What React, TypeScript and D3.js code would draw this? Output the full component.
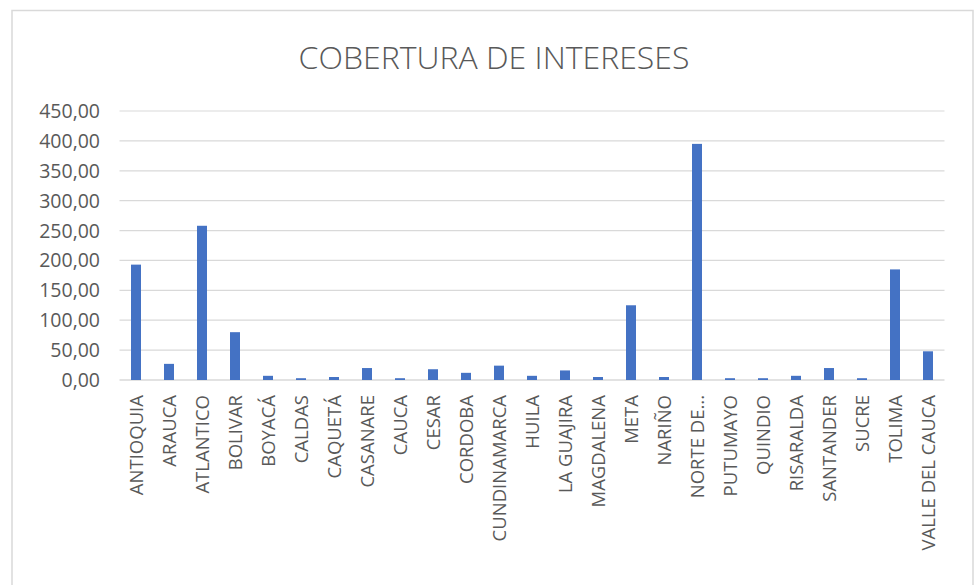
import React, { useEffect, useRef } from 'react';
import * as d3 from 'd3';

const DEPARTMENTS = [
  "ANTIOQUIA", "ARAUCA", "ATLANTICO", "BOLIVAR", "BOYACÁ", "CALDAS", "CAQUETÁ",
  "CASANARE", "CAUCA", "CESAR", "CORDOBA", "CUNDINAMARCA", "HUILA", "LA GUAJIRA",
  "MAGDALENA", "META", "NARIÑO", "NORTE DE...", "PUTUMAYO", "QUINDIO", "RISARALDA",
  "SANTANDER", "SUCRE", "TOLIMA", "VALLE DEL CAUCA"
];
const COVERAGE = [
  193, 27, 258, 80, 7, 3, 5,
  20, 3, 18, 12, 24, 7, 16,
  5, 125, 5, 395, 3, 3, 7,
  20, 3, 185, 48
];
const Y_TICKS = [0, 50, 100, 150, 200, 250, 300, 350, 400, 450];
const TITLE = "COBERTURA DE INTERESES";

const W = 976;
const H = 585;
const PLOT = { left: 119.5, right: 944.5, top: 111, bottom: 380 };
const FONT = "'Open Sans', 'DejaVu Sans', sans-serif";
const TEXT_COLOR = "#595959";
const GRID_COLOR = "#d9d9d9";
const BAR_COLOR = "#4472C4";

export default function App() {
  const svgRef = useRef<SVGSVGElement>(null);

  useEffect(() => {
    const svg = d3.select(svgRef.current);
    svg.selectAll("*").remove();

    const x = d3.scaleBand<string>()
      .domain(DEPARTMENTS)
      .range([PLOT.left, PLOT.right])
      .paddingInner(0.697)
      .paddingOuter(0.3485);

    const y = d3.scaleLinear()
      .domain([0, 450])
      .range([PLOT.bottom, PLOT.top]);

    // chart frame
    svg.append("rect")
      .attr("x", 12)
      .attr("y", 10.5)
      .attr("width", 961)
      .attr("height", 620)
      .attr("fill", "#fff")
      .attr("stroke", GRID_COLOR)
      .attr("stroke-width", 1.5);

    // title
    svg.append("text")
      .attr("x", 494)
      .attr("y", 69)
      .attr("text-anchor", "middle")
      .style("font-family", FONT)
      .style("font-size", "32px")
      .style("font-weight", "300")
      .style("fill", TEXT_COLOR)
      .text(TITLE);

    // gridlines + y labels
    Y_TICKS.forEach(t => {
      svg.append("line")
        .attr("x1", PLOT.left)
        .attr("x2", PLOT.right)
        .attr("y1", y(t))
        .attr("y2", y(t))
        .attr("stroke", GRID_COLOR)
        .attr("stroke-width", t === 0 ? 1.5 : 1.2);

      svg.append("text")
        .attr("x", 100)
        .attr("y", y(t))
        .attr("dy", "0.36em")
        .attr("text-anchor", "end")
        .style("font-family", FONT)
        .style("font-size", "19.5px")
        .style("fill", TEXT_COLOR)
        .text(d3.format(".2f")(t).replace(".", ","));
    });

    // bars
    svg.append("g")
      .selectAll("rect")
      .data(DEPARTMENTS.map((d, i) => ({ name: d, value: COVERAGE[i] })))
      .join("rect")
      .attr("x", d => x(d.name)!)
      .attr("y", d => y(d.value))
      .attr("width", x.bandwidth())
      .attr("height", d => y(0) - y(d.value))
      .attr("fill", BAR_COLOR);

    // x labels (rotated)
    DEPARTMENTS.forEach(name => {
      const cx = x(name)! + x.bandwidth() / 2;
      svg.append("text")
        .attr("transform", `translate(${cx},395) rotate(-90)`)
        .attr("dy", "0.36em")
        .attr("text-anchor", "end")
        .style("font-family", FONT)
        .style("font-size", "18.5px")
        .style("fill", TEXT_COLOR)
        .text(name);
    });
  }, []);

  return (
    <svg
      ref={svgRef}
      width={W}
      height={H}
      style={{ position: "absolute", left: 0, top: 0, background: "#fff" }}
    />
  );
}
